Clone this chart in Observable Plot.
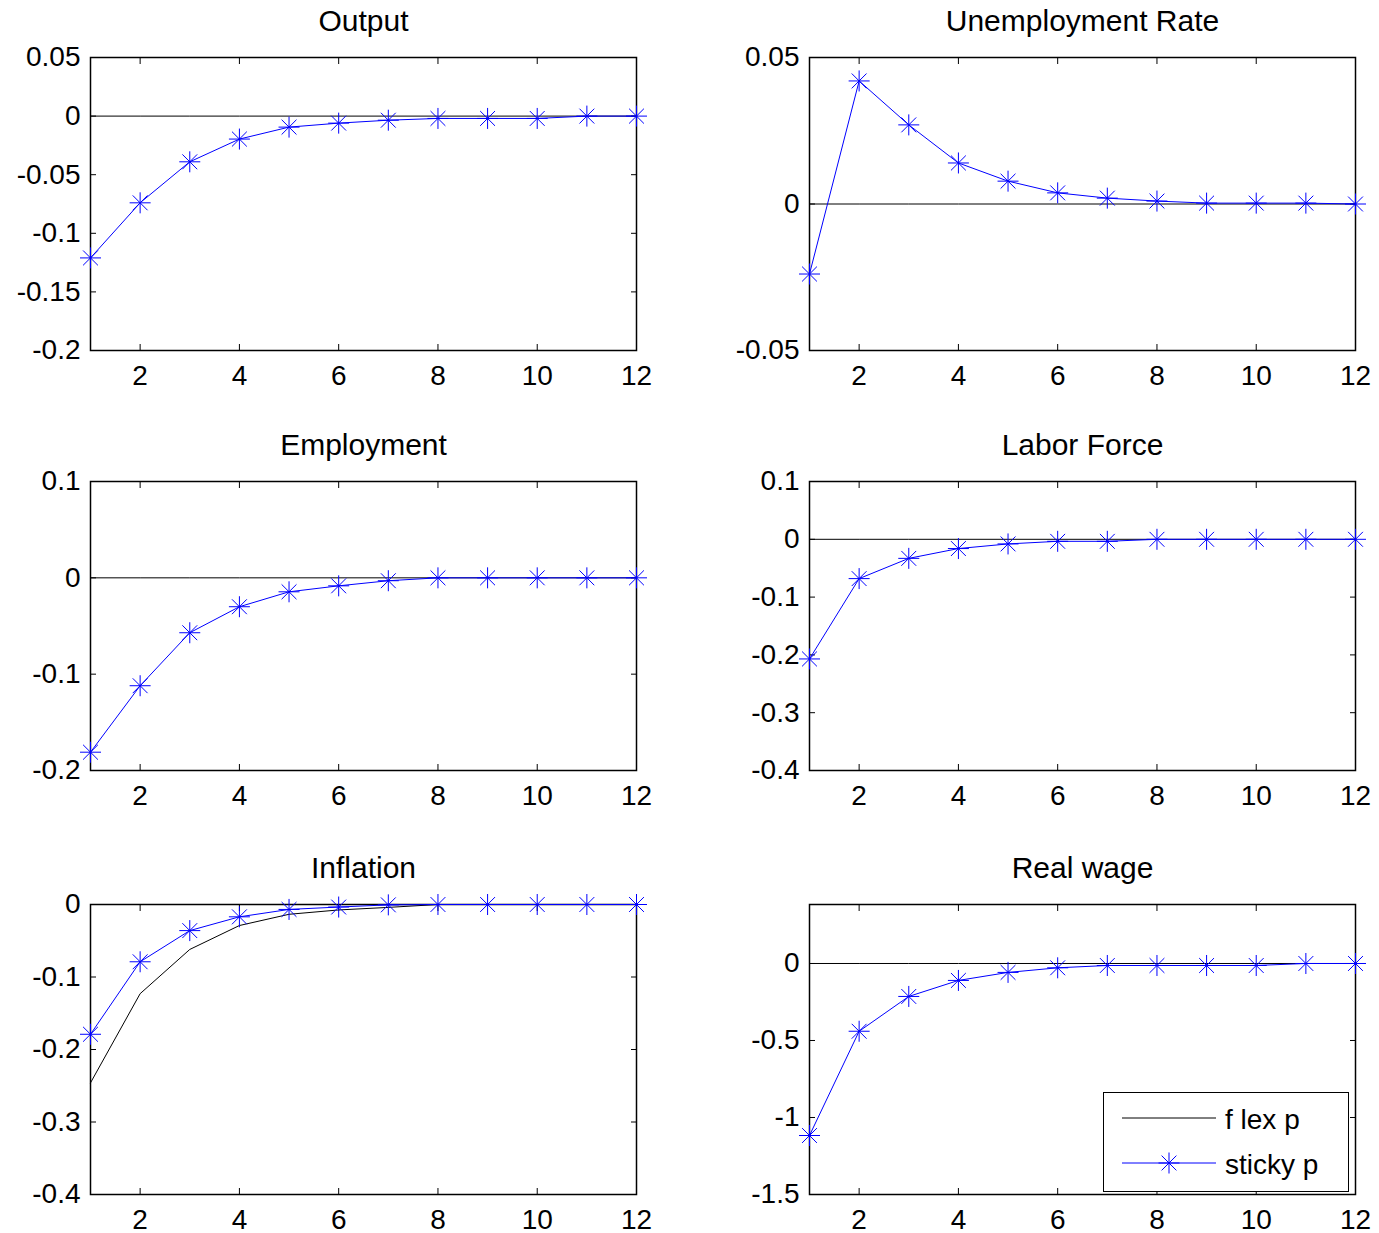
<!DOCTYPE html>
<html>
<head>
<meta charset="utf-8">
<script src="https://cdn.jsdelivr.net/npm/d3@7"></script>
<script src="https://cdn.jsdelivr.net/npm/@observablehq/plot@0.6"></script>
<style>
  html, body { margin: 0; padding: 0; background: #fff; }
  #fig { position: relative; width: 1379px; height: 1233px; background: #fff; font-family: "Liberation Sans", Arial, Helvetica, sans-serif; }
  .panel { position: absolute; }
  .panel svg { overflow: visible; }
  #legend { position: absolute; left: 1103px; top: 1092px; width: 246px; height: 100px; box-sizing: border-box; border: 1.5px solid #000; background: #fff; }
</style>
</head>
<body>
<div id="fig"></div>
<script>
// ---- data ----
const steps = [1, 2, 3, 4, 5, 6, 7, 8, 9, 10, 11, 12];
const xTicks = [2, 4, 6, 8, 10, 12];

const titles = ["Output", "Unemployment Rate", "Employment", "Labor Force", "Inflation", "Real wage"];

const outputFlex   = [0, 0, 0, 0, 0, 0, 0, 0, 0, 0, 0, 0];
const outputSticky = [-0.121, -0.074, -0.039, -0.0196, -0.0094, -0.006, -0.0035, -0.002, -0.002, -0.002, 0, 0];

const unempFlex    = [0, 0, 0, 0, 0, 0, 0, 0, 0, 0, 0, 0];
const unempSticky  = [-0.0239, 0.042, 0.027, 0.014, 0.0078, 0.0038, 0.002, 0.001, 0.0003, 0.0003, 0.0003, 0];

const emplFlex     = [0, 0, 0, 0, 0, 0, 0, 0, 0, 0, 0, 0];
const emplSticky   = [-0.181, -0.112, -0.057, -0.030, -0.0145, -0.0083, -0.003, 0, 0, 0, 0, 0];

const laborFlex    = [0, 0, 0, 0, 0, 0, 0, 0, 0, 0, 0, 0];
const laborSticky  = [-0.207, -0.068, -0.033, -0.016, -0.008, -0.0035, -0.0035, 0, 0, 0, 0, 0];

const inflFlex     = [-0.246, -0.123, -0.062, -0.029, -0.0135, -0.0075, -0.004, 0, 0, 0, 0, 0];
const inflSticky   = [-0.179, -0.079, -0.036, -0.017, -0.0068, -0.0035, -0.0005, 0, 0, 0, 0, 0];

const wageFlex     = [0, 0, 0, 0, 0, 0, 0, 0, 0, 0, 0, 0];
const wageSticky   = [-1.117, -0.44, -0.214, -0.11, -0.058, -0.028, -0.013, -0.013, -0.013, -0.013, 0, 0];

const yDomains = [[-0.2, 0.05], [-0.05, 0.05], [-0.2, 0.1], [-0.4, 0.1], [-0.4, 0], [-1.5, 0.383]];
const yTicksList = [
  [-0.2, -0.15, -0.1, -0.05, 0, 0.05],
  [-0.05, 0, 0.05],
  [-0.2, -0.1, 0, 0.1],
  [-0.4, -0.3, -0.2, -0.1, 0, 0.1],
  [-0.4, -0.3, -0.2, -0.1, 0],
  [-1.5, -1, -0.5, 0]
];
const legendLabels = ["f lex p", "sticky p"];

// ---- layout ----
const flexSeries = [outputFlex, unempFlex, emplFlex, laborFlex, inflFlex, wageFlex];
const stickySeries = [outputSticky, unempSticky, emplSticky, laborSticky, inflSticky, wageSticky];
const cols = [
  {left: 0, width: 690, mL: 90, mR: 54},
  {left: 690, width: 689, mL: 119, mR: 24}
];
const rows = [
  {top: 0, height: 410, mT: 57, mB: 60},
  {top: 420, height: 410, mT: 61, mB: 60},
  {top: 840, height: 393, mT: 64, mB: 39}
];

// MATLAB-style '*' marker (plus + cross)
const matlabStar = {
  draw(context, size) {
    const r = Math.sqrt(size / Math.PI);
    const d = r / Math.SQRT2;
    context.moveTo(-r, 0); context.lineTo(r, 0);
    context.moveTo(0, -r); context.lineTo(0, r);
    context.moveTo(-d, -d); context.lineTo(d, d);
    context.moveTo(-d, d); context.lineTo(d, -d);
  }
};

const fmt = d => String(+(+d).toFixed(4));
const font = "'Liberation Sans', Arial, Helvetica, sans-serif";
const fig = document.getElementById("fig");

titles.forEach((title, i) => {
  const col = cols[i % 2];
  const row = rows[Math.floor(i / 2)];
  const data = steps.map((s, k) => ({step: s, flex: flexSeries[i][k], sticky: stickySeries[i][k]}));
  const yTicks = yTicksList[i];
  const chart = Plot.plot({
    width: col.width,
    height: row.height,
    marginLeft: col.mL,
    marginRight: col.mR,
    marginTop: row.mT,
    marginBottom: row.mB,
    style: {fontFamily: font, background: "transparent", overflow: "visible", color: "#000"},
    x: {domain: [1, 12], label: null},
    y: {domain: yDomains[i], label: null},
    marks: [
      // frame
      Plot.frame({stroke: "#000", strokeWidth: 1.5}),
      // inward ticks on all sides
      Plot.axisX({anchor: "bottom", ticks: xTicks, tickSize: -6, tickFormat: () => "", stroke: "#000", label: null}),
      Plot.axisX({anchor: "top", ticks: xTicks, tickSize: -6, tickFormat: () => "", stroke: "#000", label: null}),
      Plot.axisY({anchor: "left", ticks: yTicks, tickSize: -6, tickFormat: () => "", stroke: "#000", label: null}),
      Plot.axisY({anchor: "right", ticks: yTicks, tickSize: -6, tickFormat: () => "", stroke: "#000", label: null}),
      // tick labels
      Plot.axisX({anchor: "bottom", ticks: xTicks, tickSize: 0, tickPadding: 15, fontSize: 28, tickFormat: fmt, fill: "#000", label: null}),
      Plot.axisY({anchor: "left", ticks: yTicks, tickSize: 0, tickPadding: 10, fontSize: 28, tickFormat: fmt, fill: "#000", label: null}),
      // flex p (black)
      Plot.line(data, {x: "step", y: "flex", stroke: "#000", strokeWidth: 1}),
      // sticky p (blue with stars)
      Plot.line(data, {x: "step", y: "sticky", stroke: "#0000ff", strokeWidth: 1}),
      Plot.dot(data, {x: "step", y: "sticky", symbol: matlabStar, r: 10.5, stroke: "#0000ff", fill: "none", strokeWidth: 1}),
      // title
      Plot.text([title], {frameAnchor: "top", lineAnchor: "bottom", dy: -27, fontSize: 30, fill: "#000", text: d => d})
    ]
  });
  const div = document.createElement("div");
  div.className = "panel";
  div.style.left = col.left + "px";
  div.style.top = row.top + "px";
  div.appendChild(chart);
  fig.appendChild(div);
});

// legend (inside the Real wage panel, bottom right)
const legend = document.createElement("div");
legend.id = "legend";
legend.innerHTML = `
<svg width="243" height="97" style="position:absolute;left:0;top:0">
  <line x1="18" y1="25" x2="112" y2="25" stroke="#000" stroke-width="1"/>
  <line x1="18" y1="70" x2="112" y2="70" stroke="#0000ff" stroke-width="1"/>
  <path d="M54.5,70L75.5,70M65,59.5L65,80.5M57.6,62.6L72.4,77.4M57.6,77.4L72.4,62.6" stroke="#0000ff" stroke-width="1" fill="none"/>
  <text x="121" y="36" font-size="28" font-family="${font}" fill="#000">${legendLabels[0]}</text>
  <text x="121" y="81" font-size="28" font-family="${font}" fill="#000">${legendLabels[1]}</text>
</svg>`;
fig.appendChild(legend);
</script>
</body>
</html>
